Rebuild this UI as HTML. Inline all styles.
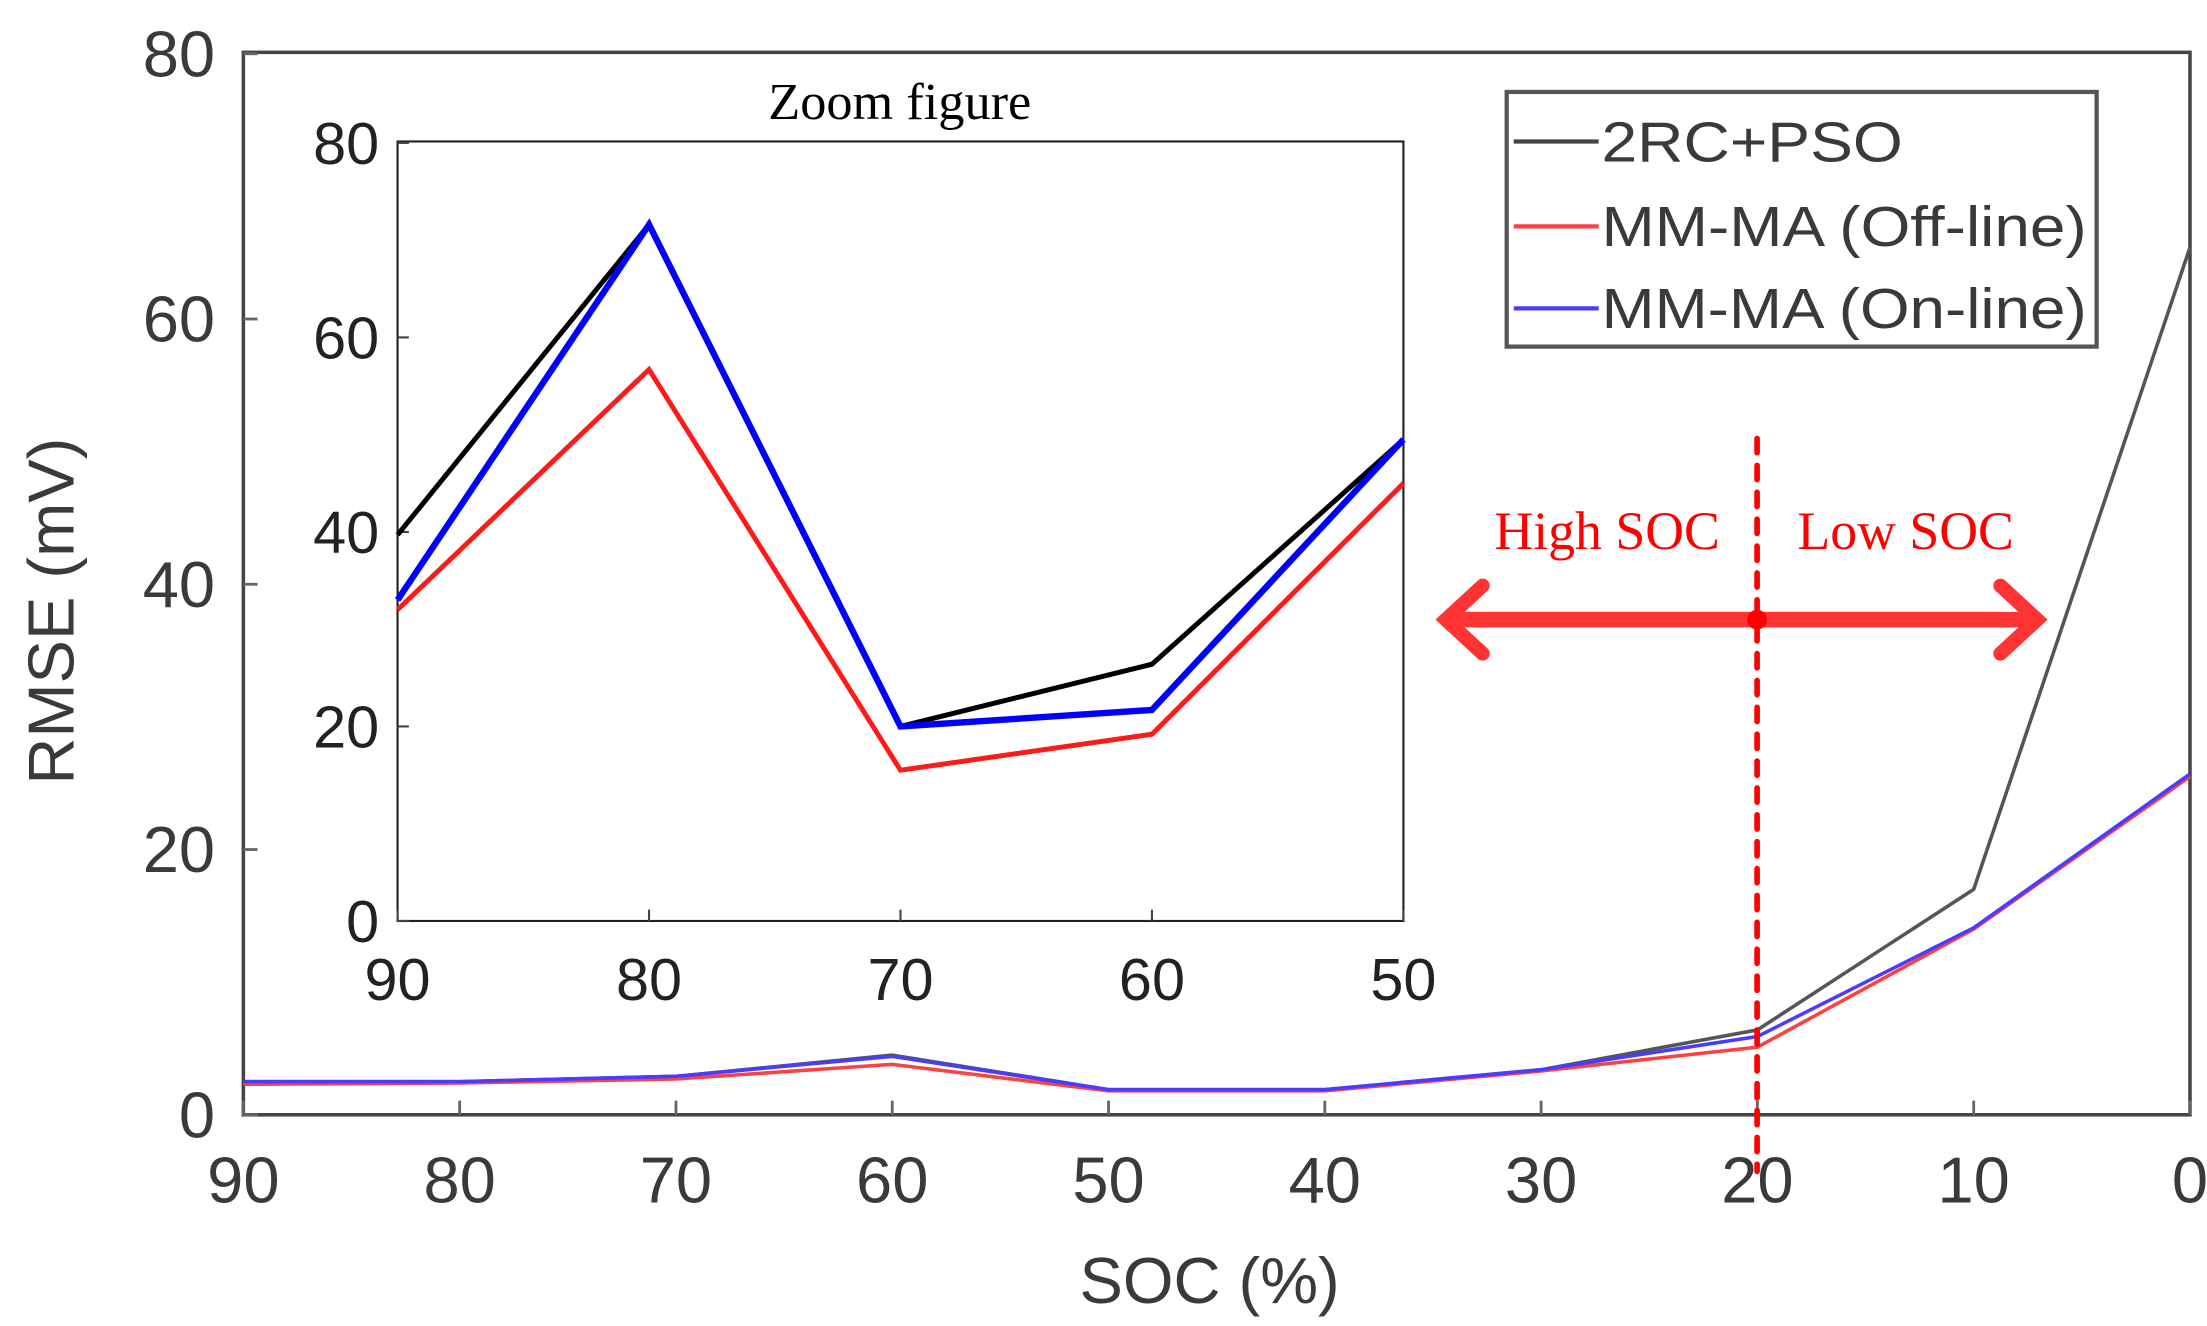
<!DOCTYPE html>
<html><head><meta charset="utf-8"><style>html,body{margin:0;padding:0;background:#fff}svg{display:block}</style></head>
<body>
<svg id="chart" width="2207" height="1326" viewBox="0 0 1560 937.3" xmlns="http://www.w3.org/2000/svg" font-family="'Liberation Sans', sans-serif"></svg>
<script>
const socCategories = [90, 80, 70, 60, 50, 40, 30, 20, 10, 0];
const pso = [2.5, 2.5, 2.9, 4.5, 1.9, 1.9, 3.4, 6.4, 17, 65.4];
const offline = [2.3, 2.4, 2.7, 3.8, 1.8, 1.8, 3.3, 5.1, 14, 25.5];
const online = [2.5, 2.5, 2.9, 4.4, 1.9, 1.9, 3.4, 5.9, 14.1, 25.7];
const yTicks = [0, 20, 40, 60, 80];
const zoomCategories = [90, 80, 70, 60, 50];
const zoomPso = [39.7, 71.6, 20, 26.4, 49.5];
const zoomOnline = [33, 71.6, 20, 21.7, 49.5];
const zoomOffline = [32, 56.7, 15.5, 19.2, 45];

const svg = document.getElementById('chart');
const NS = 'http://www.w3.org/2000/svg';
function mk(tag, attrs, parent) {
  const e = document.createElementNS(NS, tag);
  for (const k in attrs) e.setAttribute(k, attrs[k]);
  (parent || svg).appendChild(e);
  return e;
}
const mx = v => 172 + (90 - v) / 90 * (1548 - 172);
const my = v => 788 - v / 80 * (788 - 38);
const frame = mk('rect', {x:172, y:37, width:1376, height:751, fill:'none', stroke:'#444', 'stroke-width':2.5});


socCategories.forEach(c => {
  const t = mk('text', {x:mx(c), y:850, 'text-anchor':'middle', 'font-size':46, fill:'#3a3a3a'});
  t.textContent = c;
  
  
  mk('line', {x1:mx(c), x2:mx(c), y1:788, y2:778, stroke:'#666', 'stroke-width':2});
});
yTicks.forEach(v => {
  const t = mk('text', {x:152, y:my(v) + 16, 'text-anchor':'end', 'font-size':46, fill:'#3a3a3a'});
  t.textContent = v;
  
  
  mk('line', {x1:172, x2:182, y1:my(v), y2:my(v), stroke:'#666', 'stroke-width':2});
});
const xt = mk('text', {x:855, y:921, 'text-anchor':'middle', 'font-size':46, fill:'#3a3a3a'});
xt.textContent = 'SOC (%)';


const yt = mk('text', {x:0, y:0, 'text-anchor':'middle', 'font-size':46, fill:'#3a3a3a', transform:'translate(52,432) rotate(-90)'});
yt.textContent = 'RMSE (mV)';



function series(xs, ys, fx, fy, color, w, name) {
  const p = mk('polyline', {points: xs.map((x, i) => fx(x) + ',' + fy(ys[i])).join(' '), fill:'none', stroke:color, 'stroke-width':w, 'stroke-linejoin':'miter'});
  
  
}
series(socCategories, pso, mx, my, '#555', 2.5, 'series-2rc-pso');
series(socCategories, offline, mx, my, '#ff4040', 2.5, 'series-mm-ma-offline');
series(socCategories, online, mx, my, '#4a3cff', 2.5, 'series-mm-ma-online');

const ix = v => 281 + (90 - v) / 40 * (992 - 281);
const iy = v => 651 - v / 80 * (651 - 101);
const ibg = mk('rect', {x:281, y:100, width:711, height:551, fill:'#fff', stroke:'#222', 'stroke-width':1.5});


const zt = mk('text', {x:636, y:84, 'text-anchor':'middle', 'font-size':37, 'font-family':"'Liberation Serif', serif", fill:'#000'});
zt.textContent = 'Zoom figure';


zoomCategories.forEach(c => {
  const t = mk('text', {x:ix(c), y:707, 'text-anchor':'middle', 'font-size':42, fill:'#222'});
  t.textContent = c;
  
  
  mk('line', {x1:ix(c), x2:ix(c), y1:651, y2:643, stroke:'#444', 'stroke-width':1.5});
});
yTicks.forEach(v => {
  const t = mk('text', {x:268, y:iy(v) + 15, 'text-anchor':'end', 'font-size':42, fill:'#222'});
  t.textContent = v;
  
  
  mk('line', {x1:281, x2:289, y1:iy(v), y2:iy(v), stroke:'#444', 'stroke-width':1.5});
});
series(zoomCategories, zoomPso, ix, iy, '#000', 3.5, 'inset-series-2rc-pso');
series(zoomCategories, zoomOffline, ix, iy, '#ff1a1a', 3.5, 'inset-series-mm-ma-offline');
series(zoomCategories, zoomOnline, ix, iy, '#0000ff', 4.5, 'inset-series-mm-ma-online');

const lg = mk('g', {});


mk('rect', {x:1065, y:65, width:417, height:180, fill:'#fff', stroke:'#555', 'stroke-width':3}, lg);
const legItems = [['2RC+PSO', '#444', 100, 213], ['MM-MA (Off-line)', '#ff4040', 160, 343], ['MM-MA (On-line)', '#4a3cff', 218, 343]];
legItems.forEach(it => {
  const g = mk('g', {}, lg);
  
  
  mk('line', {x1:1070, x2:1130, y1:it[2], y2:it[2], stroke:it[1], 'stroke-width':3}, g);
  const t = mk('text', {x:1132, y:it[2] + 14, 'font-size':40, fill:'#3a3a3a', textLength:it[3], lengthAdjust:'spacingAndGlyphs'}, g);
  t.textContent = it[0];
});

const dl = mk('line', {x1:1242, x2:1242, y1:310, y2:828, stroke:'#ff0000', 'stroke-width':4, 'stroke-dasharray':'10 9', 'stroke-linecap':'round'});


const ar = mk('g', {});


mk('line', {x1:1025, x2:1436, y1:438, y2:438, stroke:'#ff3333', 'stroke-width':11}, ar);
mk('polyline', {points:'1048,414 1022,438 1048,462', fill:'none', stroke:'#ff3333', 'stroke-width':10, 'stroke-linecap':'round'}, ar);
mk('polyline', {points:'1414,414 1440,438 1414,462', fill:'none', stroke:'#ff3333', 'stroke-width':10, 'stroke-linecap':'round'}, ar);
mk('circle', {cx:1242, cy:438, r:7, fill:'#ff0000'}, ar);
const hs = mk('text', {x:1136, y:388, 'text-anchor':'middle', 'font-size':38, 'font-family':"'Liberation Serif', serif", fill:'#ff0000'});
hs.textContent = 'High SOC';


const ls = mk('text', {x:1347, y:388, 'text-anchor':'middle', 'font-size':38, 'font-family':"'Liberation Serif', serif", fill:'#ff0000'});
ls.textContent = 'Low SOC';


</script>
</body></html>
